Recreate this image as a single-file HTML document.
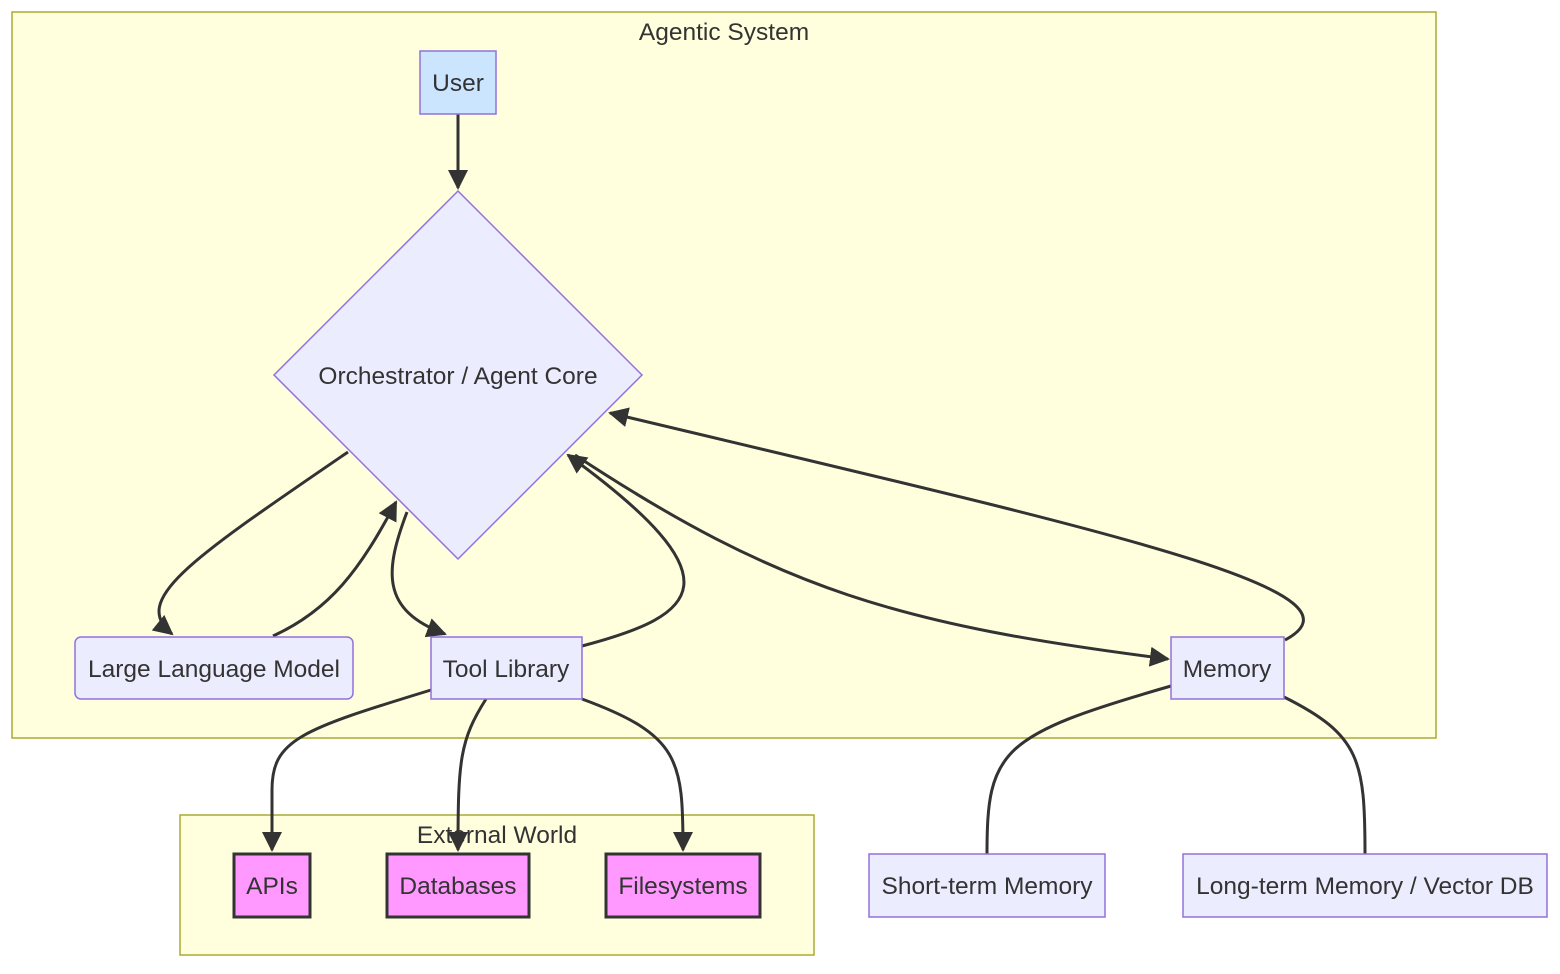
<!DOCTYPE html>
<html><head><meta charset="utf-8"><style>
html,body{margin:0;padding:0;background:#fff;}
svg text{font-family:"Liberation Sans",Arial,sans-serif;font-size:24.5px;fill:#333;}
</style></head><body>
<svg width="1560" height="969" viewBox="0 0 1560 969" xmlns="http://www.w3.org/2000/svg">
<defs>
<marker id="b" viewBox="0 0 10 10" refX="9" refY="5" markerWidth="20" markerHeight="20" orient="auto" markerUnits="userSpaceOnUse">
<path d="M0,0 L10,5 L0,10 z" fill="#333"/></marker>
</defs>
<rect x="12" y="12" width="1424" height="726" fill="#ffffde" stroke="#aaaa33" stroke-width="1.5"/>
<text x="724" y="40" text-anchor="middle">Agentic System</text>
<rect x="180" y="815" width="634" height="140" fill="#ffffde" stroke="#aaaa33" stroke-width="1.5"/>
<text x="497" y="843" text-anchor="middle">External World</text>

<g fill="none" stroke="#333" stroke-width="3">
<path d="M458,114 C458,150 458,160 458,188" marker-end="url(#b)"/>
<path d="M348,452 C190,560 130,600 172,634" marker-end="url(#b)"/>
<path d="M273,636 C330,610 360,570 396,502" marker-end="url(#b)"/>
<path d="M407,512 C385,570 380,610 445,634" marker-end="url(#b)"/>
<path d="M582,646 C700,615 740,580 568,455" marker-end="url(#b)"/>
<path d="M575,455 C780,590 900,625 1168,659" marker-end="url(#b)"/>
<path d="M1285,640 C1380,590 1100,530 610,413" marker-end="url(#b)"/>
<path d="M431,690 C300,730 272,740 272,790 L272,850" marker-end="url(#b)"/>
<path d="M486,699 C460,740 458,760 458,850" marker-end="url(#b)"/>
<path d="M582,699 C680,735 683,760 683,850" marker-end="url(#b)"/>
<path d="M1171,686 C1000,735 987,750 987,854"/>
<path d="M1284,697 C1360,735 1365,760 1365,854"/>
</g>

<rect x="420" y="51" width="76" height="63" fill="#cce5ff" stroke="#9370db" stroke-width="1.5"/>
<text x="458" y="91" text-anchor="middle">User</text>
<polygon points="458,191 642,375 458,559 274,375" fill="#ececff" stroke="#9370db" stroke-width="1.5"/>
<text x="458" y="384" text-anchor="middle">Orchestrator / Agent Core</text>
<rect x="75" y="637" width="278" height="62" rx="6" fill="#ececff" stroke="#9370db" stroke-width="1.5"/>
<text x="214" y="677" text-anchor="middle">Large Language Model</text>
<rect x="431" y="637" width="151" height="62" fill="#ececff" stroke="#9370db" stroke-width="1.5"/>
<text x="506" y="677" text-anchor="middle">Tool Library</text>
<rect x="1171" y="637" width="113" height="62" fill="#ececff" stroke="#9370db" stroke-width="1.5"/>
<text x="1227" y="677" text-anchor="middle">Memory</text>

<rect x="234" y="854" width="76" height="63" fill="#ff99ff" stroke="#333" stroke-width="3"/>
<text x="272" y="894" text-anchor="middle">APIs</text>
<rect x="387" y="854" width="142" height="63" fill="#ff99ff" stroke="#333" stroke-width="3"/>
<text x="458" y="894" text-anchor="middle">Databases</text>
<rect x="606" y="854" width="154" height="63" fill="#ff99ff" stroke="#333" stroke-width="3"/>
<text x="683" y="894" text-anchor="middle">Filesystems</text>

<rect x="869" y="854" width="236" height="63" fill="#ececff" stroke="#9370db" stroke-width="1.5"/>
<text x="987" y="894" text-anchor="middle">Short-term Memory</text>
<rect x="1183" y="854" width="364" height="63" fill="#ececff" stroke="#9370db" stroke-width="1.5"/>
<text x="1365" y="894" text-anchor="middle">Long-term Memory / Vector DB</text>
</svg>
</body></html>
